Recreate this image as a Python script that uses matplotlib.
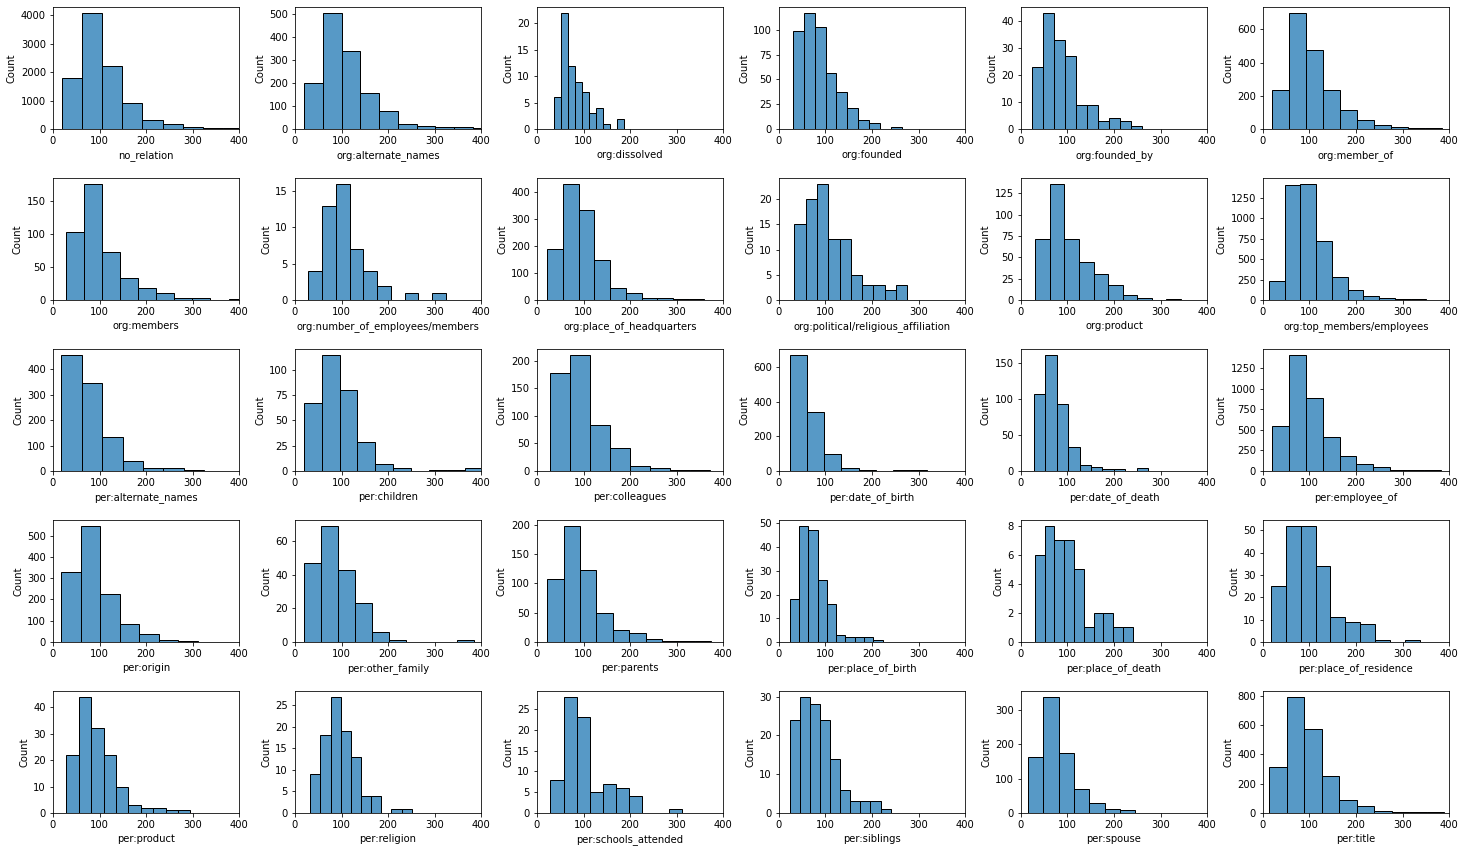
import numpy as np
import matplotlib
matplotlib.use("Agg")
import matplotlib.pyplot as plt
from matplotlib.colors import to_rgba

# relation labels, one subplot each
relations = [
    "no_relation", "org:alternate_names", "org:dissolved", "org:founded",
    "org:founded_by", "org:member_of",
    "org:members", "org:number_of_employees/members", "org:place_of_headquarters",
    "org:political/religious_affiliation", "org:product", "org:top_members/employees",
    "per:alternate_names", "per:children", "per:colleagues", "per:date_of_birth",
    "per:date_of_death", "per:employee_of",
    "per:origin", "per:other_family", "per:parents", "per:place_of_birth",
    "per:place_of_death", "per:place_of_residence",
    "per:product", "per:religion", "per:schools_attended", "per:siblings",
    "per:spouse", "per:title",
]

# first bin edge and bin width (sentence length) for each histogram
bin_start = [19, 20, 37, 30, 24, 20,
             28, 29, 22, 33, 31, 13,
             18, 19, 29, 23, 28, 19,
             18, 20, 22, 23, 30, 17,
             29, 33, 29, 23, 15, 14]
bin_width = [43.3, 40.2, 15.1, 23.4, 23.7, 36.4,
             38.8, 29.5, 33.8, 24.3, 31.3, 33.8,
             43.8, 38.4, 42.9, 37.0, 24.5, 36.4,
             41.8, 36.5, 35.3, 20.0, 21.0, 32.0,
             26.6, 21.8, 28.2, 21.7, 33.0, 37.6]

# counts per bin
counts = [
    [1780, 4080, 2230, 900, 310, 165, 65, 30, 25],
    [200, 505, 340, 155, 78, 22, 13, 9, 9, 4],
    [6, 22, 12, 9, 7, 3, 4, 1, 0, 2],
    [99, 117, 103, 56, 37, 21, 9, 6, 0, 2],
    [23, 43, 33, 27, 9, 9, 3, 4, 3, 1],
    [233, 700, 478, 233, 112, 53, 23, 12, 6, 5],
    [103, 176, 72, 34, 19, 10, 3, 3, 0, 1],
    [4, 13, 16, 7, 4, 2, 0, 1, 0, 1],
    [189, 430, 334, 147, 43, 28, 7, 7, 3, 3],
    [15, 20, 23, 12, 12, 5, 3, 3, 2, 3],
    [72, 136, 72, 44, 31, 18, 6, 2, 0, 1],
    [230, 1415, 1425, 720, 278, 118, 45, 22, 10, 10],
    [457, 347, 132, 39, 12, 12, 4],
    [67, 115, 80, 29, 7, 3, 0, 1, 1, 3],
    [178, 211, 84, 41, 10, 5, 2, 2],
    [670, 342, 96, 15, 4, 0, 4, 4],
    [106, 161, 93, 33, 9, 6, 3, 3, 0, 4],
    [550, 1410, 885, 418, 178, 80, 45, 10, 10, 8],
    [327, 547, 228, 83, 36, 9, 5],
    [47, 69, 43, 23, 6, 1, 0, 0, 0, 1],
    [107, 198, 123, 49, 20, 15, 5, 2, 2, 2],
    [18, 49, 47, 26, 16, 3, 2, 2, 2, 1],
    [6, 8, 7, 7, 5, 1, 2, 2, 1, 1],
    [25, 52, 52, 34, 11, 9, 8, 1, 0, 1],
    [22, 44, 32, 22, 10, 3, 2, 2, 1, 1],
    [9, 18, 27, 19, 13, 4, 4, 0, 1, 1],
    [8, 28, 23, 5, 7, 6, 4, 0, 0, 1],
    [24, 30, 28, 24, 14, 6, 3, 3, 3, 1],
    [163, 338, 174, 70, 29, 12, 8],
    [315, 795, 575, 253, 88, 46, 14, 6, 6, 6],
]

# 72 dpi so default font/tick sizes come out like the reference
fig, axes = plt.subplots(5, 6, figsize=(1464 / 72, 852 / 72), dpi=72)
fig.subplots_adjust(left=0.0362, right=0.9898, top=0.9918, bottom=0.0458,
                    wspace=0.30, hspace=0.40)

face = to_rgba("#1f77b4", 0.75)
for ax, name, x0, w, c in zip(axes.flat, relations, bin_start, bin_width, counts):
    left = x0 + w * np.arange(len(c))
    ax.bar(left, c, width=w, align="edge", facecolor=face,
           edgecolor="black", linewidth=1)
    ax.set_xlim(0, 400)
    ax.set_xlabel(name)
    ax.set_ylabel("Count")

fig.savefig("out.png", dpi=72)
